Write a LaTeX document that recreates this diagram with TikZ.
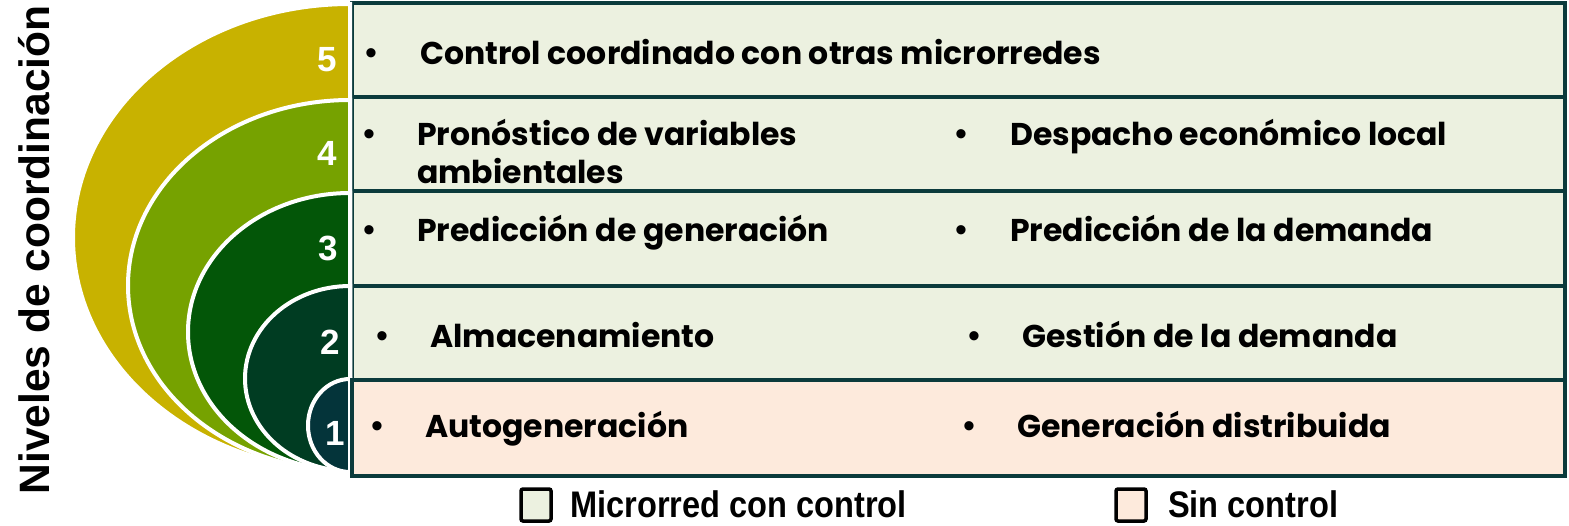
\documentclass[tikz,border=0pt]{standalone}
\usepackage{fontspec}
\setmainfont{Liberation Sans}
\newfontfamily\rowfont{Poppins}
\newfontfamily\narrowfont{Liberation Sans}[FakeStretch=0.88]
\definecolor{lvfive}{HTML}{C8B200}
\definecolor{lvfour}{HTML}{76A200}
\definecolor{lvthree}{HTML}{035608}
\definecolor{lvtwo}{HTML}{003C22}
\definecolor{lvone}{HTML}{04343A}
\definecolor{bordercol}{HTML}{0B3B3C}
\definecolor{lightfill}{HTML}{ECF1E0}
\definecolor{peachfill}{HTML}{FDEADC}
\begin{document}
\begin{tikzpicture}[x=1pt,y=-1pt,
  rowbox/.style={draw=bordercol, line width=4pt},
  lvshape/.style={draw=white, line width=4pt},
  itemtxt/.style={anchor=base west, inner sep=0pt, font=\rowfont\bfseries\fontsize{31.5}{36}\selectfont},
  bul/.style={anchor=base, inner sep=0pt, font=\fontsize{34}{34}\selectfont},
  numtxt/.style={anchor=center, inner sep=0pt, text=white, font=\bfseries\fontsize{35}{35}\selectfont},
  legbox/.style={draw=black, line width=3.5pt, rounded corners=2pt},
  legtxt/.style={anchor=base west, inner sep=0pt, font=\narrowfont\bfseries\fontsize{37}{37}\selectfont}]
\useasboundingbox (0,0) rectangle (1569,525);
% rows 5..2
\draw[rowbox, fill=lightfill] (352,3) rectangle (1565,97);
\draw[rowbox, fill=lightfill] (352,97) rectangle (1565,191);
\draw[rowbox, fill=lightfill] (352,191) rectangle (1565,286);
\draw[rowbox, fill=lightfill] (352,286) rectangle (1565,380);
% level shapes
\draw[lvshape, fill=lvfive] (350,4) arc[start angle=270, end angle=90, x radius=277, y radius=233.5] -- cycle;
\draw[lvshape, fill=lvfour] (350,100) arc[start angle=270, end angle=90, x radius=222, y radius=185.5] -- cycle;
\draw[lvshape, fill=lvthree] (350,193) arc[start angle=270, end angle=90, x radius=162, y radius=139] -- cycle;
\draw[lvshape, fill=lvtwo] (350,286) arc[start angle=270, end angle=90, x radius=105, y radius=92.5] -- cycle;
\draw[lvshape, fill=lvone] (350,379) arc[start angle=270, end angle=90, x radius=42, y radius=46.5] -- cycle;
% row 1
\draw[rowbox, fill=peachfill] (352,380) rectangle (1565,476);
% numbers
\node[numtxt] (n5) at (327,60) {5};
\node[numtxt] (n4) at (327,153) {4};
\node[numtxt] (n3) at (328,248) {3};
\node[numtxt] (n2) at (330,342) {2};
\node[numtxt] (n1) at (335,433) {1};
% vertical title
\node[anchor=base, inner sep=0pt, rotate=90, font=\bfseries\fontsize{42.5}{43}\selectfont] (title) at (49,250) {Niveles de coordinación};
% row 5
\node[bul] (b5) at (371,64) {•};
\node[itemtxt] (t5) at (420,64) {Control coordinado con otras microrredes};
% row 4
\node[bul] (b4a) at (369,145) {•};
\node[itemtxt] (t4a) at (417,145) {Pronóstico de variables};
\node[itemtxt] (t4b) at (417,183) {ambientales};
\node[bul] (b4c) at (961,145) {•};
\node[itemtxt] (t4c) at (1010,145) {Despacho económico local};
% row 3
\node[bul] (b3a) at (369,241) {•};
\node[itemtxt] (t3a) at (417,241) {Predicción de generación};
\node[bul] (b3c) at (961,241) {•};
\node[itemtxt] (t3c) at (1010,241) {Predicción de la demanda};
% row 2
\node[bul] (b2a) at (382,347) {•};
\node[itemtxt] (t2a) at (430,347) {Almacenamiento};
\node[bul] (b2c) at (974,347) {•};
\node[itemtxt] (t2c) at (1022,347) {Gestión de la demanda};
% row 1
\node[bul] (b1a) at (377,437) {•};
\node[itemtxt] (t1a) at (425,437) {Autogeneración};
\node[bul] (b1c) at (969,437) {•};
\node[itemtxt] (t1c) at (1017,437) {Generación distribuida};
% legend
\draw[legbox, fill=lightfill] (521,489) rectangle (551,521);
\node[legtxt] (l1) at (570,517) {Microrred con control};
\draw[legbox, fill=peachfill] (1116,489) rectangle (1146,521);
\node[legtxt] (l2) at (1168,517) {Sin control};
\end{tikzpicture}
\end{document}
